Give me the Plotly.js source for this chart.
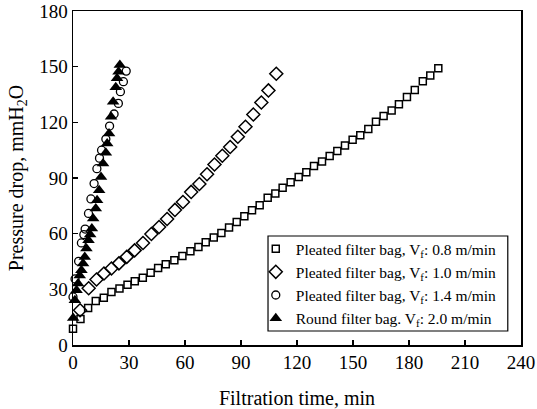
<!DOCTYPE html>
<html>
<head>
<meta charset="utf-8">
<script src="https://cdn.plot.ly/plotly-3.0.1.min.js"></script>
<style>
  html, body { margin: 0; padding: 0; background: #fff; }
  #chart { width: 537px; height: 409px; }
</style>
</head>
<body>
<div id="chart"></div>
<script>
// Pleated filter bag, Vf 0.8 m/min
const timeP08 = [0, 4.0, 8.1, 12.2, 16.5, 20.6, 24.9, 29.2, 33.1, 37.4, 41.6, 45.6, 49.7, 54.3, 58.6, 62.9,
  67.2, 71.1, 75.4, 79.5, 83.6, 87.7, 91.8, 95.9, 100.0, 104.3, 108.4, 112.3, 116.6, 120.9, 125.0, 129.1,
  133.4, 137.5, 141.6, 145.7, 149.8, 153.9, 158.2, 162.3, 166.4, 170.7, 174.6, 178.9, 183.1, 187.4, 191.4, 195.7];
const dpP08 = [8.8, 14.0, 19.9, 23.7, 25.5, 28.6, 30.4, 32.5, 34.3, 36.3, 38.9, 41.5, 43.5, 45.7, 48.0, 50.5,
  52.8, 55.4, 57.9, 60.4, 63.3, 66.3, 69.4, 72.6, 75.3, 79.3, 81.6, 84.7, 87.7, 90.6, 93.1, 96.4,
  98.9, 101.8, 104.6, 107.5, 110.6, 113.1, 116.4, 120.3, 123.4, 126.4, 129.7, 133.6, 137.4, 142.1, 145.3, 149.1];

// Pleated filter bag, Vf 1.0 m/min
const timeP10 = [3.8, 8.4, 12.6, 16.6, 20.6, 24.6, 28.8, 33.0, 37.5, 42.0, 46.1, 50.4, 54.6, 58.9, 63.3,
  67.7, 71.8, 75.8, 80.0, 84.2, 88.3, 92.4, 96.6, 100.9, 104.7, 108.9];
const dpP10 = [18.7, 30.6, 35.3, 38.5, 41.2, 44.0, 47.5, 51.0, 55.0, 59.8, 63.6, 67.9, 72.8, 77.1, 82.5,
  86.8, 92.0, 97.3, 102.0, 106.7, 112.2, 117.6, 124.2, 130.7, 137.2, 146.2];

// Pleated filter bag, Vf 1.4 m/min
const timeP14 = [0, 1.1, 3.0, 4.5, 5.8, 6.5, 8.3, 9.6, 11.3, 12.8, 14.2, 15.3, 17.6, 19.6, 22.0, 24.3, 25.4, 27.0, 28.5];
const dpP14 = [25.9, 35.6, 45.1, 55.0, 59.5, 62.5, 70.9, 78.7, 87.0, 95.0, 100.7, 105.0, 111.0, 118.0, 124.5, 130.2, 136.5, 141.9, 147.6];

// Round filter bag, Vf 2.0 m/min
const timeR20 = [0.1, 1.0, 1.9, 2.7, 3.6, 4.5, 5.4, 6.3, 7.2, 8.3, 9.2, 10.1, 10.8, 12.2, 12.9, 14.0,
  15.0, 16.1, 17.6, 18.3, 19.3, 20.4, 21.5, 22.9, 23.6, 24.4, 25.1];
const dpR20 = [14.5, 24.1, 29.5, 33.1, 37.5, 40.3, 43.9, 47.4, 52.0, 56.4, 59.5, 62.8, 68.2, 73.6, 78.0, 83.4,
  90.6, 97.8, 103.6, 108.6, 114.0, 123.0, 131.1, 138.9, 143.7, 147.3, 150.9];

const seriesNames = [
  'Pleated filter bag, V<sub>f</sub>: 0.8 m/min',
  'Pleated filter bag, V<sub>f</sub>: 1.0 m/min',
  'Pleated filter bag, V<sub>f</sub>: 1.4 m/min',
  'Round filter bag. V<sub>f</sub>: 2.0 m/min'
];
const xTicks = [0, 30, 60, 90, 120, 150, 180, 210, 240];
const yTicks = [0, 30, 60, 90, 120, 150, 180];

const serif = 'Liberation Serif, Times New Roman, serif';

function pointTrace(x, y, name, symbol, size, lineWidth) {
  return {
    x: x, y: y, name: name, type: 'scatter', mode: 'markers', cliponaxis: false,
    marker: { symbol: symbol, size: size, color: '#000', line: { color: '#000', width: lineWidth } }
  };
}

const traces = [
  pointTrace(timeP08, dpP08, seriesNames[0], 'square-open', 7, 1.5),
  pointTrace(timeP10, dpP10, seriesNames[1], 'diamond-open', 10, 1.5),
  pointTrace(timeP14, dpP14, seriesNames[2], 'circle-open', 8, 1.3),
  pointTrace(timeR20, dpR20, seriesNames[3], 'triangle-up', 11, 0)
];

const axisCommon = {
  showline: true, linecolor: '#000', linewidth: 1.5, mirror: true,
  ticks: 'inside', ticklen: 5, tickwidth: 1.3, tickcolor: '#000',
  showgrid: false, zeroline: false,
  tickfont: { family: serif, size: 19, color: '#000' }
};

const layout = {
  width: 537, height: 409,
  margin: { l: 73, r: 16, t: 11, b: 64 },
  paper_bgcolor: '#fff', plot_bgcolor: '#fff',
  font: { family: serif, color: '#000' },
  showlegend: true,
  xaxis: Object.assign({}, axisCommon, {
    range: [0, 240], tickvals: xTicks, ticktext: xTicks.map(String),
    title: { text: 'Filtration time, min', font: { family: serif, size: 20, color: '#000' }, standoff: 18 }
  }),
  yaxis: Object.assign({}, axisCommon, {
    range: [0, 180], tickvals: yTicks, ticktext: yTicks.map(String),
    title: { text: 'Pressure drop, mmH<sub>2</sub>O', font: { family: serif, size: 20, color: '#000' }, standoff: 10 }
  }),
  legend: {
    x: 0.408, y: 0.338, xanchor: 'left', yanchor: 'top',
    bgcolor: 'rgba(0,0,0,0)', borderwidth: 0,
    font: { family: serif, size: 15.5, color: '#000' },
    itemwidth: 30, tracegroupgap: 0
  },
  // frame around the legend entries
  shapes: [{
    type: 'rect', xref: 'paper', yref: 'paper',
    x0: 0.4353, x1: 0.9705, y0: 0.0419, y1: 0.3263,
    line: { color: '#000', width: 1.2 }, fillcolor: '#fff', layer: 'below'
  }]
};

Plotly.newPlot('chart', traces, layout, { displayModeBar: false, staticPlot: true });
</script>
</body>
</html>
